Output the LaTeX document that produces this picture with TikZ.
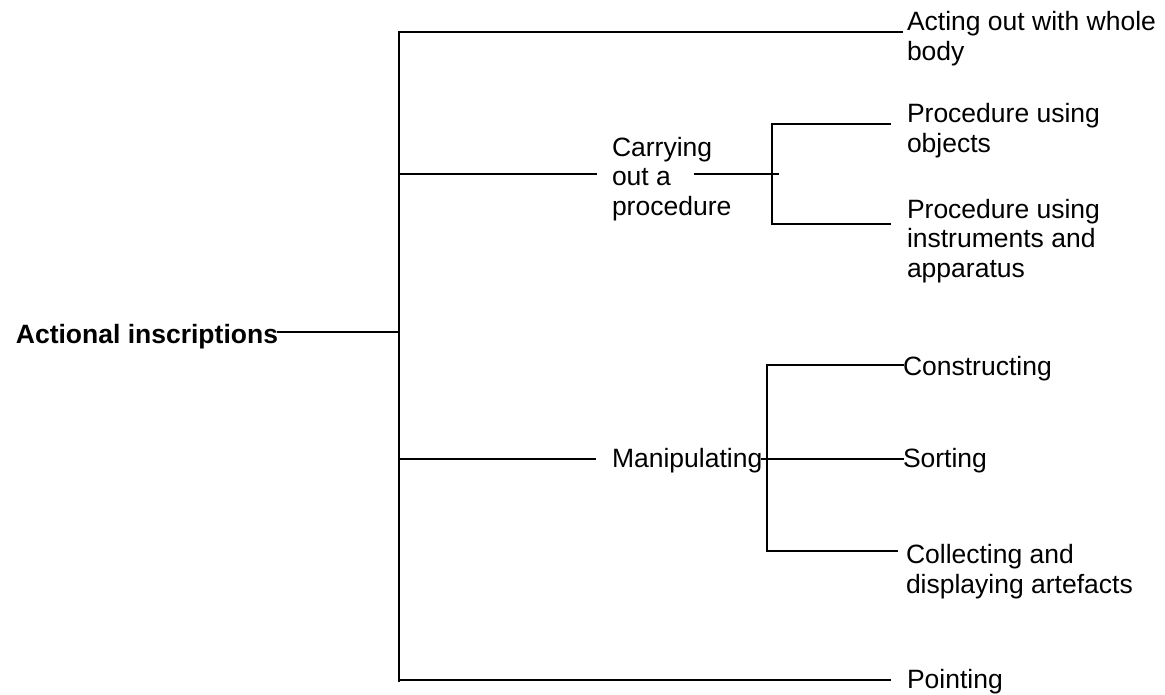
\documentclass[tikz,border=0pt]{standalone}
\usepackage{fontspec}
\setmainfont{Liberation Sans}
\begin{document}
\begin{tikzpicture}[x=1pt,y=-1pt,
  every node/.style={inner sep=0pt, outer sep=0pt, font=\fontsize{26.5pt}{29.5pt}\selectfont},
  label/.style={anchor=base west, align=left},
  branch/.style={line width=1.6pt, line cap=rect}]
\useasboundingbox (0,0) rectangle (1165,694);

% ---- labels (base anchor = baseline of the last line) ----
\node[anchor=base east, font=\fontsize{26.5pt}{29.5pt}\selectfont\bfseries] (root) at (278,343) {Actional inscriptions};
\node[label] (acting) at (907,60) {Acting out with whole\\body};
\node[label] (carry) at (612,215) {Carrying\\out a\\procedure};
\node[label] (objects) at (907,152) {Procedure using\\objects};
\node[label] (instr) at (907,277) {Procedure using\\instruments and\\apparatus};
\node[label] (manip) at (612,467) {Manipulating};
\node[label] (constr) at (903,375) {Constructing};
\node[label] (sort) at (903,467) {Sorting};
\node[label] (collect) at (906,593) {Collecting and\\displaying artefacts};
\node[label] (point) at (907,688) {Pointing};

% ---- junction points ----
\coordinate (trunkTop) at (399,32);
\coordinate (trunkBot) at (399,681);
\coordinate (jRoot) at (399,332);
\coordinate (jCarry) at (399,174);
\coordinate (jManip) at (399,459);
\coordinate (carryOut) at (695,174);
\coordinate (bA) at (772,174);
\coordinate (bAtop) at (772,124);
\coordinate (bAbot) at (772,224);
\coordinate (bB) at (767,459);
\coordinate (bBtop) at (767,365);
\coordinate (bBbot) at (767,551);

% ---- main trunk ----
\draw[branch] (trunkTop) -- (trunkBot);
\draw[branch] (root.east |- jRoot) -- (jRoot);
\draw[branch] (trunkTop) -- ([xshift=-5pt]acting.west |- trunkTop);
\draw[branch] (jCarry) -- ([xshift=-16pt]carry.west |- jCarry);
\draw[branch] (jManip) -- ([xshift=-17pt]manip.west |- jManip);
\draw[branch] (trunkBot |- 0,680) -- ([xshift=-17pt]point.west |- 0,680);

% ---- procedure bracket ----
\draw[branch] (carryOut) -- ([xshift=6pt]bA);
\draw[branch] (bAtop) -- (bAbot);
\draw[branch] (bAtop) -- ([xshift=-17pt]objects.west |- bAtop);
\draw[branch] (bAbot) -- ([xshift=-17pt]instr.west |- bAbot);

% ---- manipulating bracket ----
\draw[branch] (bBtop) -- (bBbot);
\draw[branch] (manip.east |- bB) -- (sort.west |- bB);
\draw[branch] (bBtop) -- (constr.west |- bBtop);
\draw[branch] (bBbot) -- ([xshift=-9pt]collect.west |- bBbot);
\end{tikzpicture}
\end{document}
